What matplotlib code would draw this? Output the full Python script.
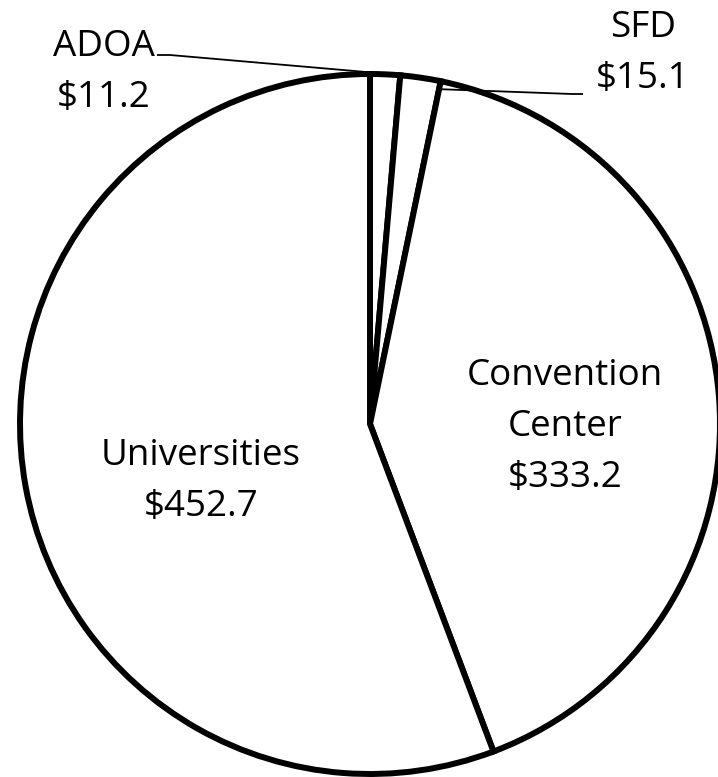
import numpy as np
import matplotlib.pyplot as plt

# Data (values in $ millions)
names = ['ADOA', 'SFD', 'Convention\nCenter', 'Universities']
values = [11.2, 15.1, 333.2, 452.7]

W, H = 718, 777
CX, CY, R = 370, 424, 350   # pie centre / radius in pixel coords (y from top)

plt.rcParams['font.family'] = ['Open Sans', 'DejaVu Sans']

fig = plt.figure(figsize=(W / 100, H / 100), dpi=100)
ax = fig.add_axes([0, 0, 1, 1])


def py(y):
    # pixel y (from top) -> data y
    return H - y


wedges, _ = ax.pie(values, center=(CX, py(CY)), radius=R, startangle=90,
                   counterclock=False,
                   wedgeprops=dict(facecolor='white', edgecolor='black',
                                   linewidth=4.3, joinstyle='miter'))
ax.set_xlim(0, W)
ax.set_ylim(0, H)
ax.set_aspect('equal')
ax.axis('off')


def edge_point(w, frac):
    ang = np.deg2rad(w.theta1 + frac * (w.theta2 - w.theta1))
    return CX + R * np.cos(ang), py(CY) + R * np.sin(ang)


fs = 26.5
# label anchor (centre x, first baseline y) and line step, in pixels
label_pos = [(104, 56), (643, 37), (565, 385), (201, 465)]
STEP = 51


def put_label(i):
    x, y = label_pos[i]
    lines = names[i].split('\n') + [f"\\${values[i]:.1f}"]
    for k, s in enumerate(lines):
        ax.text(x, py(y + k * STEP), s, ha='center', va='baseline',
                fontsize=fs)


for i in range(len(values)):
    put_label(i)

# leader lines for the two thin slices
x0, y0 = edge_point(wedges[0], 1.0)
ax.plot([157, 170, x0 - 4], [py(55), py(55), y0 + 2], color='black', lw=1.3,
        solid_capstyle='butt')
x1, y1 = edge_point(wedges[1], 0.0)
ax.plot([x1, 572, 583], [y1 - 8, py(94), py(94)], color='black', lw=1.3,
        solid_capstyle='butt')

fig.savefig('out.png', dpi=100)
